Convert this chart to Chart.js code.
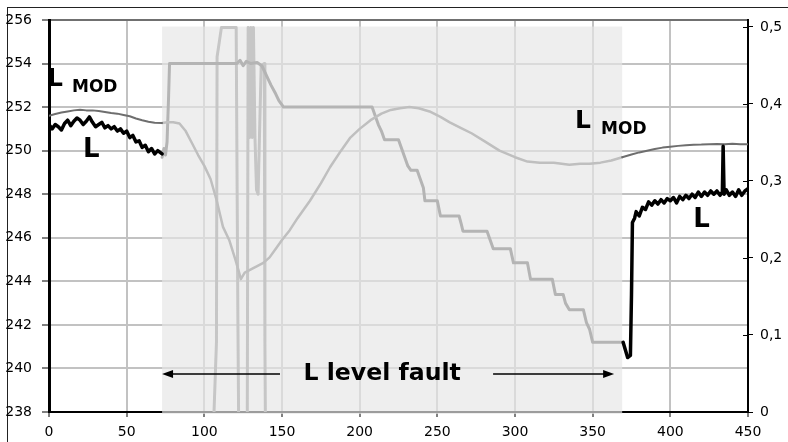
<!DOCTYPE html>
<html>
<head>
<meta charset="utf-8">
<script src="https://cdn.jsdelivr.net/npm/chart.js@4/dist/chart.umd.min.js"></script>
<style>
  html, body { margin: 0; padding: 0; background: #fff; }
  #wrap { position: relative; width: 788px; height: 442px; overflow: hidden; }
  #frame { position: absolute; left: 7px; top: 7px; width: 800px; height: 460px; border: 1px solid #222; }
  canvas { position: absolute; left: 0; top: 0; }
</style>
</head>
<body>
<div id="wrap">
  <div id="frame"></div>
  <canvas id="chart" width="788" height="442"></canvas>
</div>
<script>
// axis ticks
const xTicksStep = 50;
const leftTicksStep = 2;
const rightTicks = [0, 0.1, 0.2, 0.3, 0.4, 0.5];
const rightMax = 0.509;

// fault window
const faultStart = 72.8;
const faultEnd = 369;
const faultTop = 255.7;

// L measured, before the fault
const lBeforeX = [0, 2, 4, 6, 8, 10, 12, 14, 16, 18, 20, 22, 24, 26, 28, 30, 32, 34, 36, 38, 40, 42, 44, 46, 48, 50, 52, 54, 56, 58, 60, 62, 64, 66, 68, 70, 72.8];
const lBeforeY = [251.2, 251.0, 251.2, 251.1, 250.95, 251.25, 251.4, 251.15, 251.35, 251.5, 251.4, 251.2, 251.35, 251.55, 251.3, 251.1, 251.2, 251.3, 251.05, 251.15, 251.0, 251.1, 250.9, 251.0, 250.8, 250.9, 250.6, 250.7, 250.4, 250.45, 250.15, 250.25, 249.95, 250.1, 249.85, 250.0, 249.85];

// L measured, after the fault
const lAfterX = [369.6, 372.5, 374.3, 375, 375.6, 377, 378, 380, 382, 384, 386, 388, 390, 392, 394, 396, 398, 400, 402, 404, 406, 408, 410, 412, 414, 416, 418, 420, 422, 424, 426, 428, 430, 432, 433.5, 434, 434.6, 436, 438, 440, 442, 444, 446, 448, 450];
const lAfterY = [241.2, 240.5, 240.6, 243.4, 246.7, 246.9, 247.2, 247.0, 247.4, 247.3, 247.65, 247.5, 247.7, 247.55, 247.75, 247.6, 247.8, 247.7, 247.85, 247.6, 247.9, 247.75, 247.95, 247.8, 248.0, 247.85, 248.1, 247.9, 248.1, 247.95, 248.15, 248.0, 248.15, 247.95, 248.1, 250.2, 248.0, 248.2, 247.95, 248.1, 247.9, 248.2, 247.95, 248.15, 248.25];

// L MOD (model estimate)
const lModBeforeX = [0, 4, 8, 12, 16, 20, 24, 28, 32, 36, 40, 44, 48, 52, 56, 60, 64, 68, 72.8];
const lModBeforeY = [251.6, 251.68, 251.75, 251.8, 251.85, 251.88, 251.85, 251.85, 251.82, 251.78, 251.73, 251.7, 251.64, 251.58, 251.48, 251.4, 251.33, 251.28, 251.27];
const lModFaultX = [72.8, 76, 80, 84, 88, 92, 96, 100, 104, 108, 112, 116, 120, 122, 123.5, 126, 130, 134, 138, 142, 146, 150, 155, 160, 168, 175, 181, 188, 194, 200, 207, 214, 220, 226, 232, 238, 245, 252, 258, 265, 272, 280, 290, 300, 308, 316, 325, 335, 342, 348, 355, 362, 369];
const lModFaultY = [251.27, 251.3, 251.3, 251.25, 250.9, 250.35, 249.8, 249.3, 248.7, 247.7, 246.5, 245.9, 245.0, 244.5, 244.1, 244.4, 244.55, 244.7, 244.85, 245.1, 245.5, 245.9, 246.35, 246.9, 247.7, 248.5, 249.25, 250.0, 250.6, 251.0, 251.4, 251.7, 251.87, 251.95, 252.0, 251.95, 251.8, 251.55, 251.3, 251.05, 250.8, 250.45, 250.0, 249.7, 249.5, 249.45, 249.45, 249.35, 249.4, 249.4, 249.45, 249.55, 249.7];
const lModAfterX = [369, 375, 380, 385, 390, 395, 400, 405, 410, 415, 420, 425, 430, 435, 440, 445, 450];
const lModAfterY = [249.7, 249.82, 249.92, 250.0, 250.08, 250.14, 250.18, 250.22, 250.25, 250.27, 250.28, 250.3, 250.31, 250.3, 250.32, 250.3, 250.3];

// L level during the fault (stepped)
const faultLevelX = [72.8, 74, 75, 76, 77, 77.6, 121, 123, 125, 127, 130, 134, 137, 139, 141, 143, 146, 148, 151, 208, 210, 212, 214, 216, 225, 227, 229, 231, 233, 237, 239, 241, 242, 250, 252, 264, 265.5, 266.5, 282, 284, 286, 297, 299, 308, 310, 324, 326, 331, 332.5, 335, 344, 346, 348, 350, 369.6];
const faultLevelY = [249.7, 250.1, 249.8, 250.4, 252.5, 254.0, 254.0, 254.15, 253.9, 254.1, 254.0, 254.05, 253.9, 253.6, 253.3, 253.0, 252.6, 252.3, 252.0, 252.0, 251.6, 251.2, 250.9, 250.5, 250.5, 250.1, 249.7, 249.3, 249.1, 249.1, 248.7, 248.3, 247.7, 247.7, 247.0, 247.0, 246.6, 246.3, 246.3, 245.9, 245.5, 245.5, 244.85, 244.85, 244.1, 244.1, 243.4, 243.4, 243.0, 242.7, 242.7, 242.1, 241.8, 241.2, 241.2];

// swings off the scale at the start of the fault
const swingX = [105.5, 107.8, 108.2, 111.0, 120.5, 121.6, 122.2, 127.6, 128.2, 129.2, 130.0, 130.8, 131.6, 132.6, 133.6, 134.6, 136.6, 138.6, 139.0, 139.4];
const swingY = [236.5, 241.2, 254.3, 255.65, 255.65, 242.3, 236.5, 236.5, 255.65, 250.6, 255.65, 250.6, 255.65, 250.6, 248.2, 248.0, 253.9, 254.0, 241.2, 236.5];

// text on the plot (data units)
const notes = [
    { text: "L", x: -1.3, y: 252.97, size: 25 },
    { text: "MOD", x: 14.8, y: 252.69, size: 17 },
    { text: "L", x: 21.9, y: 249.72, size: 26 },
    { text: "L", x: 338.7, y: 251.04, size: 25 },
    { text: "MOD", x: 355.4, y: 250.77, size: 17 },
    { text: "L", x: 414.7, y: 246.48, size: 26 },
    { text: "L level fault", x: 163.8, y: 239.47, size: 23.6 }
];
const arrowLevel = 239.75;
const arrowSpans = [[148.7, 72.8], [285.9, 363.8]];

function toPoints(xs, ys) {
    return xs.map((x, i) => ({ x, y: ys[i] }));
}

function line(data, color, width) {
    return {
        data,
        borderColor: color,
        borderWidth: width,
        pointRadius: 0,
        tension: 0,
        borderJoinStyle: "round",
        borderCapStyle: "round",
        yAxisID: "y"
    };
}

function drawArrow(ctx, fromPx, toPx, py) {
    const dir = toPx < fromPx ? -1 : 1;
    ctx.beginPath();
    ctx.moveTo(fromPx, py);
    ctx.lineTo(toPx - dir * 8, py);
    ctx.stroke();
    ctx.beginPath();
    ctx.moveTo(toPx, py);
    ctx.lineTo(toPx - dir * 11, py - 4);
    ctx.lineTo(toPx - dir * 11, py + 4);
    ctx.closePath();
    ctx.fill();
}

const faultPlugin = {
    id: "faultPlugin",
    beforeDatasetsDraw(chart) {
        const { ctx, scales: { x, y } } = chart;
        const left = x.getPixelForValue(faultStart);
        const right = x.getPixelForValue(faultEnd);
        const top = y.getPixelForValue(faultTop);
        ctx.save();
        ctx.fillStyle = "rgba(230,230,230,0.68)";
        ctx.fillRect(left, top, right - left, y.bottom + 2 - top);
        ctx.restore();
    },
    afterDatasetsDraw(chart) {
        const { ctx, scales: { x, y, y2 } } = chart;
        ctx.save();
        ctx.strokeStyle = "#000";
        ctx.fillStyle = "#000";
        ctx.lineWidth = 1.5;
        const py = y.getPixelForValue(arrowLevel);
        arrowSpans.forEach(([from, to]) => drawArrow(ctx, x.getPixelForValue(from), x.getPixelForValue(to), py));

        ctx.textBaseline = "alphabetic";
        ctx.textAlign = "left";
        notes.forEach(n => {
            ctx.font = `bold ${n.size}px "DejaVu Sans"`;
            ctx.fillText(n.text, x.getPixelForValue(n.x), y.getPixelForValue(n.y));
        });

        // right axis ticks cross the axis line
        ctx.lineWidth = 1;
        y2.ticks.forEach(t => {
            const ty = Math.round(y2.getPixelForValue(t.value)) + 0.5;
            ctx.beginPath();
            ctx.moveTo(y2.left - 5, ty);
            ctx.lineTo(y2.left, ty);
            ctx.stroke();
        });
        ctx.restore();
    }
};

Chart.defaults.font.family = '"DejaVu Sans"';
Chart.defaults.font.size = 14;
Chart.defaults.color = "#000";

const gridGray = "#c2c2c2";

new Chart(document.getElementById("chart"), {
    type: "line",
    data: {
        datasets: [
            line(toPoints(lBeforeX, lBeforeY), "#000", 3.5),
            line(toPoints(lAfterX, lAfterY), "#000", 3.5),
            line(toPoints(lModBeforeX, lModBeforeY), "#6e6e6e", 2),
            line(toPoints(lModAfterX, lModAfterY), "#6e6e6e", 2),
            line(toPoints(lModFaultX, lModFaultY), "#bfbfbf", 2.5),
            line(toPoints(faultLevelX, faultLevelY), "#b4b4b4", 3),
            line(toPoints(swingX, swingY), "#c6c6c6", 3)
        ]
    },
    options: {
        responsive: false,
        animation: false,
        devicePixelRatio: 1,
        layout: { padding: { top: 20, left: 0, right: 0, bottom: 0 } },
        plugins: { legend: { display: false }, tooltip: { enabled: false } },
        scales: {
            x: {
                type: "linear",
                min: 0,
                max: 450,
                ticks: { stepSize: xTicksStep, padding: 7, maxRotation: 0 },
                grid: {
                    color: ctx => (ctx.tick && (ctx.tick.value === 0 || ctx.tick.value === 450)) ? "rgba(0,0,0,0)" : gridGray,
                    lineWidth: 2,
                    tickColor: "#000",
                    tickWidth: 1,
                    tickLength: 5
                },
                border: { color: "#000", width: 2 },
                afterFit: scale => { scale.height = 30; }
            },
            y: {
                position: "left",
                min: 238,
                max: 256,
                ticks: { stepSize: leftTicksStep, padding: 10 },
                grid: {
                    color: ctx => {
                        if (!ctx.tick) return gridGray;
                        if (ctx.tick.value === 256) return "#707070";
                        if (ctx.tick.value === 238) return "rgba(0,0,0,0)";
                        return gridGray;
                    },
                    lineWidth: 2,
                    tickColor: "#000",
                    tickWidth: 1,
                    tickLength: 7
                },
                border: { color: "#000", width: 3 },
                afterFit: scale => { scale.width = 49; }
            },
            y2: {
                position: "right",
                min: 0,
                max: rightMax,
                afterBuildTicks: scale => { scale.ticks = rightTicks.map(v => ({ value: v })); },
                ticks: {
                    padding: 7,
                    callback: v => v === 0 ? "0" : v.toFixed(1).replace(".", ",")
                },
                grid: { drawOnChartArea: false, tickColor: "#000", tickWidth: 1, tickLength: 5 },
                border: { color: "#000", width: 2 },
                afterFit: scale => { scale.width = 40; }
            }
        }
    },
    plugins: [faultPlugin]
});
</script>
</body>
</html>
